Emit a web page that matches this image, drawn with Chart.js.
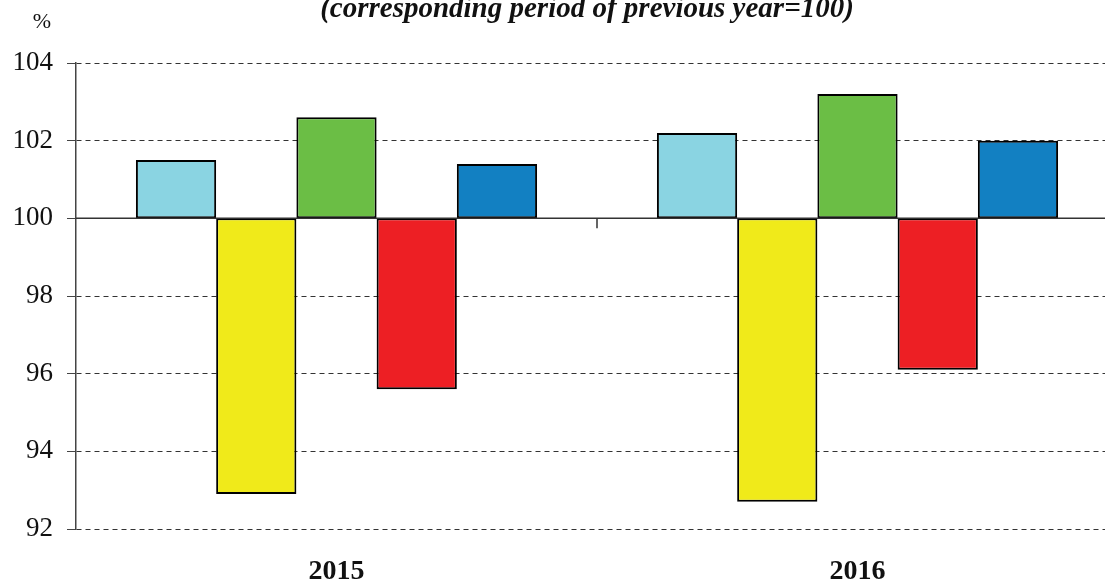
<!DOCTYPE html>
<html>
<head>
<meta charset="utf-8">
<script src="https://cdn.jsdelivr.net/npm/chart.js@4/dist/chart.umd.min.js"></script>
<style>
  html, body { margin: 0; padding: 0; background: #fff; overflow: hidden; }
  #wrap { width: 1118px; height: 585px; }
</style>
</head>
<body>
<div id="wrap"><canvas id="barChart"></canvas></div>
<script>
// Datos
var years = ['2015', '2016'];
var serie1 = [101.5, 102.2];
var serie2 = [92.9, 92.7];
var serie3 = [102.6, 103.2];
var serie4 = [95.6, 96.1];
var serie5 = [101.4, 102.0];
var baseValue = 100;
var yTicks = [92, 94, 96, 98, 100, 102, 104];
var titleText = '(corresponding period of previous year=100)';

var colores = ['#8AD4E2', '#F0EA1A', '#6BBE45', '#ED1F24', '#1280C2'];
var series = [serie1, serie2, serie3, serie4, serie5];

// barras flotantes desde 100
var datasets = series.map(function (s, i) {
    return {
        label: 'Serie ' + (i + 1),
        data: s.map(function (v) { return [baseValue, v]; }),
        backgroundColor: colores[i],
        borderColor: '#000',
        borderWidth: 2,
        borderSkipped: false,
        categoryPercentage: 0.77,
        barPercentage: 1.0
    };
});

// linea base en 100, titulo y simbolo %
var extras = {
    id: 'extras',
    afterDatasetsDraw: function (chart) {
        var ctx = chart.ctx;
        var x = chart.scales.x, y = chart.scales.y;
        var y100 = y.getPixelForValue(baseValue);
        ctx.save();
        ctx.strokeStyle = '#333';
        ctx.lineWidth = 1.5;
        ctx.beginPath();
        ctx.moveTo(chart.chartArea.left, y100);
        ctx.lineTo(chart.chartArea.right, y100);
        var mid = (x.getPixelForValue(0) + x.getPixelForValue(1)) / 2;
        ctx.moveTo(mid, y100);
        ctx.lineTo(mid, y100 + 10);
        ctx.stroke();

        ctx.fillStyle = '#111';
        ctx.textAlign = 'center';
        ctx.textBaseline = 'alphabetic';
        ctx.font = 'italic bold 29px "Liberation Serif"';
        ctx.fillText(titleText, 587, 17);
        ctx.textBaseline = 'middle';
        ctx.font = '22px "Liberation Serif"';
        ctx.fillText('%', 42, 22);
        ctx.restore();
    }
};

var ctx = document.getElementById('barChart').getContext('2d');
var chart = new Chart(ctx, {
    type: 'bar',
    data: { labels: years, datasets: datasets },
    options: {
        responsive: true,
        maintainAspectRatio: false,
        animation: false,
        layout: { padding: { top: 63, left: 0, right: 0, bottom: 0 } },
        plugins: { legend: { display: false }, tooltip: { enabled: false } },
        scales: {
            x: {
                grid: { display: false },
                border: { display: false },
                ticks: {
                    color: '#111',
                    padding: 18,
                    font: { family: 'Liberation Serif', size: 28, weight: 'bold' }
                },
                afterFit: function (scale) { scale.height = 56; }
            },
            y: {
                min: 92,
                max: 104,
                afterBuildTicks: function (scale) {
                    scale.ticks = yTicks.map(function (v) { return { value: v }; });
                },
                grid: {
                    color: '#333',
                    lineWidth: 1,
                    tickLength: 9,
                    tickColor: '#444'
                },
                border: { display: true, color: '#444', width: 1.5, dash: [5, 4] },
                ticks: {
                    color: '#111',
                    padding: 14,
                    font: { family: 'Liberation Serif', size: 27 }
                },
                afterFit: function (scale) { scale.width = 76; }
            }
        }
    },
    plugins: [extras]
});
</script>
</body>
</html>
